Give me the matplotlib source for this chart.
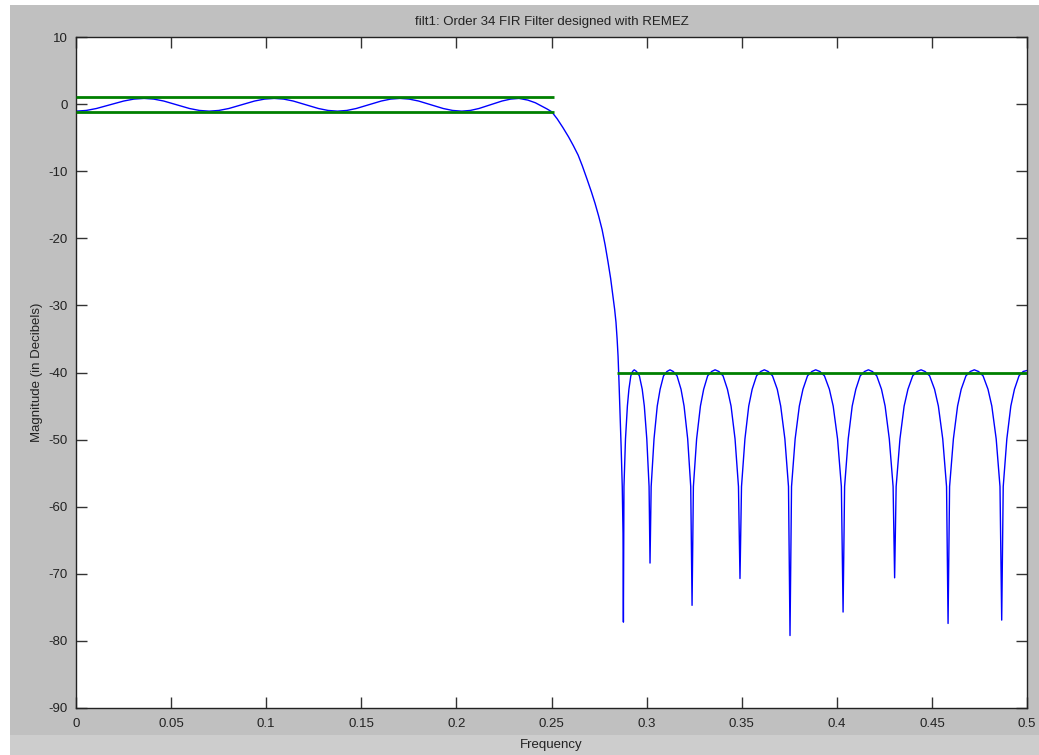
import matplotlib
matplotlib.use("Agg")
import matplotlib.pyplot as plt
from matplotlib.patches import Rectangle

# ---------------- data ----------------
title_text = "filt1: Order 34 FIR Filter designed with REMEZ"
xlabel_text = "Frequency"
ylabel_text = "Magnitude (in Decibels)"

x_ticks = [0, 0.05, 0.1, 0.15, 0.2, 0.25, 0.3, 0.35, 0.4, 0.45, 0.5]
x_tick_labels = ["0", "0.05", "0.1", "0.15", "0.2", "0.25", "0.3", "0.35", "0.4", "0.45", "0.5"]
y_ticks = [10, 0, -10, -20, -30, -40, -50, -60, -70, -80, -90]
y_tick_labels = ["10", "0", "-10", "-20", "-30", "-40", "-50", "-60", "-70", "-80", "-90"]

# passband response (frequency, dB)
pass_freq = [0.0, 0.0054, 0.0107, 0.0179, 0.0251, 0.0304, 0.0358,
             0.0409, 0.0461, 0.0529, 0.0597, 0.0649, 0.0700,
             0.0751, 0.0803, 0.0871, 0.0939, 0.0991, 0.1042,
             0.1092, 0.1142, 0.1209, 0.1275, 0.1325, 0.1375,
             0.1424, 0.1473, 0.1539, 0.1605, 0.1654, 0.1703,
             0.1752, 0.1801, 0.1866, 0.1931, 0.1980, 0.2028,
             0.2073, 0.2118, 0.2179, 0.2240, 0.2285, 0.2329,
             0.2375, 0.2415, 0.2445, 0.2475]
pass_db = [-1.05, -0.946, -0.659, -0.1, 0.459, 0.746, 0.85,
           0.746, 0.459, -0.1, -0.659, -0.946, -1.05,
           -0.946, -0.659, -0.1, 0.459, 0.746, 0.85,
           0.746, 0.459, -0.1, -0.659, -0.946, -1.05,
           -0.946, -0.659, -0.1, 0.459, 0.746, 0.85,
           0.746, 0.459, -0.1, -0.659, -0.946, -1.05,
           -0.946, -0.659, -0.1, 0.459, 0.746, 0.85,
           0.6, 0.2, -0.25, -0.7]

# transition band (frequency, dB)
trans_freq = [0.2501, 0.2530, 0.2560, 0.2590, 0.2615, 0.2640, 0.2662, 0.2687,
              0.2710, 0.2729, 0.2748, 0.2766, 0.2782, 0.2797, 0.2811, 0.2823,
              0.2832, 0.2839, 0.2845, 0.2850, 0.2855, 0.2866, 0.2872, 0.2876]
trans_db = [-1.14, -2.2, -3.5, -4.9, -6.2, -7.6, -9.2, -11.2,
            -13.1, -14.8, -16.7, -18.7, -21.0, -23.5, -26.0, -28.6,
            -30.6, -32.5, -35.0, -37.6, -41.5, -51.0, -57.0, -64.0]

# stopband response (frequency, dB)
stop_freq = [0.2878,
             0.2881, 0.2889, 0.2899, 0.2907, 0.2917, 0.2926, 0.2935,
             0.2947, 0.2962, 0.2977, 0.2988, 0.3001, 0.3013, 0.3018,
             0.3024, 0.3039, 0.3056, 0.3071, 0.3089, 0.3107, 0.3123,
             0.3140, 0.3160, 0.3181, 0.3197, 0.3216, 0.3232, 0.3239,
             0.3246, 0.3263, 0.3283, 0.3300, 0.3321, 0.3342, 0.3360,
             0.3380, 0.3402, 0.3425, 0.3444, 0.3465, 0.3483, 0.3491,
             0.3499, 0.3517, 0.3537, 0.3555, 0.3578, 0.3600, 0.3619,
             0.3639, 0.3662, 0.3687, 0.3705, 0.3727, 0.3746, 0.3754,
             0.3762, 0.3781, 0.3803, 0.3822, 0.3846, 0.3869, 0.3889,
             0.3911, 0.3935, 0.3961, 0.3981, 0.4004, 0.4024, 0.4033,
             0.4041, 0.4060, 0.4081, 0.4100, 0.4123, 0.4146, 0.4166,
             0.4187, 0.4210, 0.4235, 0.4254, 0.4276, 0.4296, 0.4304,
             0.4312, 0.4332, 0.4354, 0.4374, 0.4399, 0.4422, 0.4443,
             0.4464, 0.4488, 0.4514, 0.4534, 0.4557, 0.4577, 0.4585,
             0.4593, 0.4613, 0.4635, 0.4654, 0.4679, 0.4702, 0.4723,
             0.4745, 0.4769, 0.4795, 0.4815, 0.4838, 0.4858, 0.4867,
             0.4875, 0.4894, 0.4915, 0.4934, 0.4958, 0.4980, 0.5000]
stop_db = [-77.2,
           -57.0, -49.9, -45.0, -42.5, -40.5, -39.85, -39.6,
           -39.85, -40.5, -42.5, -45.0, -49.9, -57.0, -68.4,
           -57.0, -49.9, -45.0, -42.5, -40.5, -39.85, -39.6,
           -39.85, -40.5, -42.5, -45.0, -49.9, -57.0, -74.7,
           -57.0, -49.9, -45.0, -42.5, -40.5, -39.85, -39.6,
           -39.85, -40.5, -42.5, -45.0, -49.9, -57.0, -70.7,
           -57.0, -49.9, -45.0, -42.5, -40.5, -39.85, -39.6,
           -39.85, -40.5, -42.5, -45.0, -49.9, -57.0, -79.2,
           -57.0, -49.9, -45.0, -42.5, -40.5, -39.85, -39.6,
           -39.85, -40.5, -42.5, -45.0, -49.9, -57.0, -75.7,
           -57.0, -49.9, -45.0, -42.5, -40.5, -39.85, -39.6,
           -39.85, -40.5, -42.5, -45.0, -49.9, -57.0, -70.6,
           -57.0, -49.9, -45.0, -42.5, -40.5, -39.85, -39.6,
           -39.85, -40.5, -42.5, -45.0, -49.9, -57.0, -77.4,
           -57.0, -49.9, -45.0, -42.5, -40.5, -39.85, -39.6,
           -39.85, -40.5, -42.5, -45.0, -49.9, -57.0, -76.9,
           -57.0, -49.9, -45.0, -42.5, -40.5, -39.85, -39.7]

# specification lines
pass_spec_freq = [0.0, 0.2512]
pass_upper_db = [1.0, 1.0]
pass_lower_db = [-1.15, -1.15]
stop_spec_freq = [0.2846, 0.5]
stop_spec_db = [-40.0, -40.0]

# ---------------- drawing ----------------
W, H = 1039, 755
fig = plt.figure(figsize=(W / 100, H / 100), dpi=100, facecolor="white")

# grey window backgrounds (drawn behind the axes)
fig.patches.append(Rectangle((10 / W, 0), 1 - 10 / W, 1 - 5 / H,
                             transform=fig.transFigure, facecolor="#c0c0c0",
                             edgecolor="none", zorder=-10))
fig.patches.append(Rectangle((10 / W, 0), 1 - 10 / W, 20 / H,
                             transform=fig.transFigure, facecolor="#cdcdcd",
                             edgecolor="none", zorder=-9))

ax = fig.add_axes([76 / W, 1 - 708 / H, (1027 - 76) / W, (708 - 37) / H])
ax.set_zorder(5)
ax.set_facecolor("white")

freq_all = pass_freq + trans_freq + stop_freq
db_all = pass_db + trans_db + stop_db
ax.plot(freq_all, db_all, color="#0000ff", lw=1.0, zorder=2)

green = "#008000"
ax.plot(pass_spec_freq, pass_upper_db, color=green, lw=2.0, zorder=3, solid_capstyle="butt")
ax.plot(pass_spec_freq, pass_lower_db, color=green, lw=2.0, zorder=3, solid_capstyle="butt")
ax.plot(stop_spec_freq, stop_spec_db, color=green, lw=2.0, zorder=3, solid_capstyle="butt")

ax.set_xlim(0, 0.5)
ax.set_ylim(-90, 10)
ax.set_xticks(x_ticks)
ax.set_xticklabels(x_tick_labels)
ax.set_yticks(y_ticks)
ax.set_yticklabels(y_tick_labels)

font = "Liberation Sans"
for lab in ax.get_xticklabels() + ax.get_yticklabels():
    lab.set_fontfamily(font)
    lab.set_fontsize(9.5)
    lab.set_color("#222222")

ax.tick_params(direction="in", length=8, width=1, color="#333333",
               top=True, right=True)
ax.tick_params(axis="x", pad=7)
ax.tick_params(axis="y", pad=6)
for sp in ax.spines.values():
    sp.set_color("#222222")
    sp.set_linewidth(1.0)

ax.set_title(title_text, fontfamily=font, fontsize=9.5, color="#222222", pad=9)
ax.set_xlabel(xlabel_text, fontfamily=font, fontsize=9.5, color="#222222", labelpad=7)
ax.set_ylabel(ylabel_text, fontfamily=font, fontsize=9.5, color="#222222", labelpad=4)

fig.savefig("out.png", dpi=100, facecolor=fig.get_facecolor())
